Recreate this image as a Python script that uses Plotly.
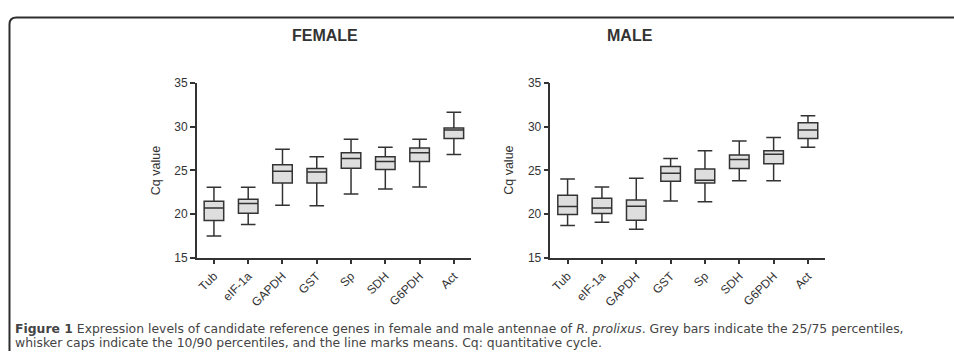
import plotly.graph_objects as go

W, H = 954, 356

genes = ["Tub", "eIF-1a", "GAPDH", "GST", "Sp", "SDH", "G6PDH", "Act"]

# Female: 10th, 25th, mean line, 75th, 90th percentiles
f_low = [17.5, 18.8, 21.0, 20.95, 22.3, 22.85, 23.1, 26.8]
f_q1 = [19.25, 20.1, 23.55, 23.55, 25.25, 25.1, 26.0, 28.65]
f_mid = [20.7, 21.2, 24.9, 24.8, 26.35, 26.0, 27.0, 29.6]
f_q3 = [21.45, 21.7, 25.65, 25.2, 27.0, 26.55, 27.55, 29.85]
f_high = [23.05, 23.05, 27.4, 26.55, 28.55, 27.65, 28.55, 31.65]

# Male
m_low = [18.7, 19.05, 18.25, 21.5, 21.4, 23.8, 23.8, 27.65]
m_q1 = [19.95, 20.05, 19.3, 23.75, 23.55, 25.2, 25.75, 28.65]
m_mid = [20.85, 20.7, 20.9, 24.65, 23.85, 26.25, 26.85, 29.6]
m_q3 = [22.15, 21.8, 21.6, 25.45, 25.15, 26.75, 27.25, 30.45]
m_high = [24.0, 23.1, 24.1, 26.35, 27.25, 28.35, 28.75, 31.25]

y_ticks = [15, 20, 25, 30, 35]
panel_titles = ["FEMALE", "MALE"]
y_title = "Cq value"


def px(x):
    return x / W


def py(y):
    return 1 - y / H


DARK = "#333333"
FILL = "#dedede"

fig = go.Figure()

box_style = dict(
    fillcolor=FILL,
    line=dict(color=DARK, width=1.5),
    whiskerwidth=0.75,
    width=0.57,
    boxpoints=False,
    showlegend=False,
    hoverinfo="skip",
)

fig.add_trace(go.Box(x=genes, lowerfence=f_low, q1=f_q1, median=f_mid, q3=f_q3,
                     upperfence=f_high, xaxis="x", yaxis="y", **box_style))
fig.add_trace(go.Box(x=genes, lowerfence=m_low, q1=m_q1, median=m_mid, q3=m_q3,
                     upperfence=m_high, xaxis="x2", yaxis="y2", **box_style))

tickfont = dict(family="Liberation Sans, Arial, sans-serif", size=12, color=DARK)

xcommon = dict(
    type="category", range=[-0.5, 7.5], showline=True, linecolor=DARK, linewidth=1.5,
    ticks="outside", ticklen=5, tickwidth=1.5, tickcolor=DARK, tickangle=-45,
    showgrid=False, zeroline=False, tickfont=tickfont, fixedrange=True,
)
ycommon = dict(
    range=[15, 35], tickvals=y_ticks, showline=True, linecolor=DARK, linewidth=1.5,
    ticks="outside", ticklen=5, tickwidth=1.5, tickcolor=DARK,
    showgrid=False, zeroline=False, tickfont=tickfont, fixedrange=True,
)

ydom = [py(261), py(79)]

fig.update_layout(
    width=W, height=H,
    margin=dict(l=0, r=0, t=0, b=0),
    paper_bgcolor="white", plot_bgcolor="white",
    xaxis=dict(domain=[px(196), px(470.5)], anchor="y", **xcommon),
    yaxis=dict(domain=ydom, anchor="x", **ycommon),
    xaxis2=dict(domain=[px(550), px(825)], anchor="y2", **xcommon),
    yaxis2=dict(domain=ydom, anchor="x2", **ycommon),
)

annotations = []
for title, cx in zip(panel_titles, [324, 630]):
    annotations.append(dict(
        text=f"<b>{title}</b>", x=px(cx), y=py(30), xref="paper", yref="paper",
        showarrow=False, xanchor="center", yanchor="middle",
        font=dict(family="Liberation Sans, Arial, sans-serif", size=16, color=DARK),
    ))
for cx in [155, 509]:
    annotations.append(dict(
        text=y_title, x=px(cx), y=py(170), xref="paper", yref="paper",
        showarrow=False, xanchor="center", yanchor="middle", textangle=-90,
        font=dict(family="Liberation Sans, Arial, sans-serif", size=12.5, color=DARK),
    ))

caption_lines = [
    ("<b>Figure 1</b> Expression levels of candidate reference genes in female and male "
     "antennae of <i>R. prolixus</i>. Grey bars indicate the 25/75 percentiles,"),
    ("whisker caps indicate the 10/90 percentiles, and the line marks means. "
     "Cq: quantitative cycle."),
]
for line, cy in zip(caption_lines, [334.5, 349.5]):
    annotations.append(dict(
        text=line, x=px(12), y=py(cy), xref="paper", yref="paper",
        showarrow=False, xanchor="left", yanchor="middle", align="left",
        font=dict(family="DejaVu Sans, sans-serif", size=12.4, color="#444444"),
    ))
fig.update_layout(annotations=annotations)

# Frame: top line and left line with rounded corner
x0, y0, r = 8.5, 11.0, 7.0
path = (f"M {px(x0)} {py(H + 2)} L {px(x0)} {py(y0 + r)} "
        f"Q {px(x0)} {py(y0)} {px(x0 + r)} {py(y0)} L {px(W + 2)} {py(y0)}")
fig.add_shape(type="path", path=path, xref="paper", yref="paper",
              line=dict(color="#2e2e30", width=2))

fig.write_html("out.html")
